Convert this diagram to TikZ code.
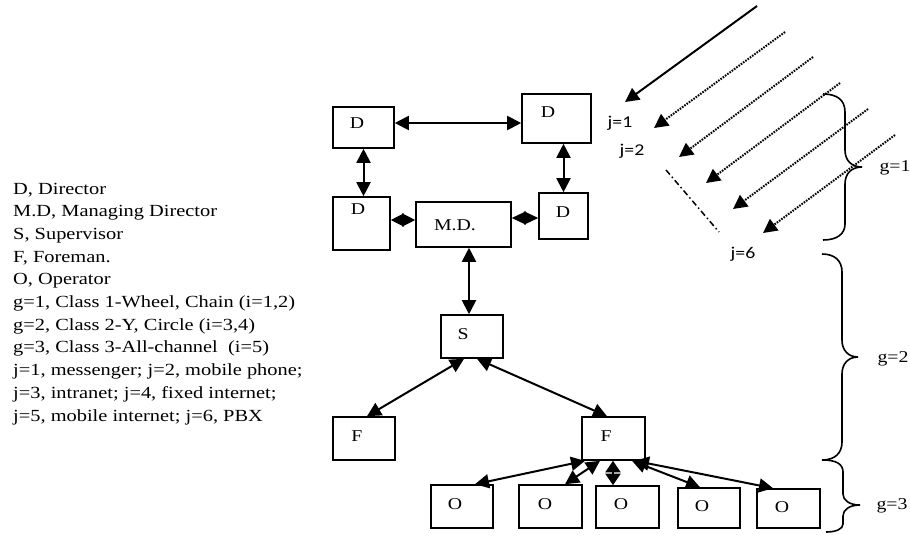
\documentclass[tikz,border=0pt]{standalone}
\usepackage{fontspec}
\setmainfont{Liberation Serif}[FakeStretch=1.2]
\newfontfamily\jfont{Carlito}[FakeStretch=1.2]
\usetikzlibrary{arrows.meta,calc}
\begin{document}
\begin{tikzpicture}[x=1pt,y=-1pt,
  box/.style={draw, line width=1.6pt, inner sep=0pt},
  lbl/.style={font=\fontsize{16.5}{20}\selectfont, inner sep=0pt},
  jlbl/.style={font=\jfont\fontsize{16.5}{20}\selectfont, inner sep=0pt, anchor=base},
  glbl/.style={font=\fontsize{16.5}{20}\selectfont, inner sep=0pt, anchor=base},
  leg/.style={font=\fontsize{17}{20}\selectfont, inner sep=0pt, anchor=base west},
  conn/.style={line width=2pt, {Triangle[length=14pt,width=14pt]}-{Triangle[length=14pt,width=14pt]}},
  shortconn/.style={line width=2pt, {Triangle[length=11.5pt,width=15pt]}-{Triangle[length=11.5pt,width=15pt]}},
  dia/.style={line width=1.2pt, {Triangle[length=13pt,width=13pt]}-{Triangle[length=13pt,width=13pt]}},
  dia2/.style={line width=1.2pt, {Triangle[length=14pt,width=13pt]}-{Triangle[length=14pt,width=13pt]}},
  solidarr/.style={line width=2pt, -{Triangle[length=14pt,width=14pt]}},
  dotarr/.style={line width=2pt, dash pattern=on 1.6pt off 1.2pt, -{Triangle[length=14pt,width=14pt]}},
  dashdotline/.style={line width=1.5pt, dash pattern=on 6pt off 3pt on 1.5pt off 3pt},
  bracepath/.style={line width=1.6pt}
]
\useasboundingbox (0,0) rectangle (910,536);

% legend
\foreach \t [count=\i from 0] in {{D, Director},{M.D, Managing Director},{S, Supervisor},{F, Foreman.},{O, Operator},{g=1, Class 1-Wheel, Chain (i=1,2)},{g=2, Class 2-Y, Circle (i=3,4)},{g=3, Class 3-All-channel\ \ (i=5)},{j=1, messenger; j=2, mobile phone;},{j=3, intranet; j=4, fixed internet;},{j=5, mobile internet; j=6, PBX}}
  \node[leg] (leg\i) at (13,{194+22.7*\i}) {\t};

% boxes
\node[box, minimum width=61pt, minimum height=41pt] (d1) at (363.5,127.5) {};
\node[box, minimum width=69pt, minimum height=49pt] (d2) at (556.5,118.5) {};
\node[box, minimum width=57pt, minimum height=53pt] (d3) at (361.5,223.5) {};
\node[box, minimum width=95pt, minimum height=45pt] (md) at (463.5,224.5) {};
\node[box, minimum width=49pt, minimum height=46pt] (d4) at (563.5,216) {};
\node[box, minimum width=62pt, minimum height=43pt] (s) at (472,336.5) {};
\node[box, minimum width=62pt, minimum height=43pt] (fl) at (364,438.5) {};
\node[box, minimum width=63pt, minimum height=43pt] (fr) at (613.5,438.5) {};
\node[box, minimum width=62pt, minimum height=43pt] (o1) at (462,506.5) {};
\node[box, minimum width=63pt, minimum height=43pt] (o2) at (550.5,506.5) {};
\node[box, minimum width=63pt, minimum height=42pt] (o3) at (627.5,507) {};
\node[box, minimum width=62pt, minimum height=40pt] (o4) at (709,508) {};
\node[box, minimum width=63pt, minimum height=39pt] (o5) at (788.5,508.5) {};

% box labels
\node[lbl] (td1) at (357,123) {D};
\node[lbl] (td2) at (548,112) {D};
\node[lbl] (td3) at (358,209) {D};
\node[lbl] (tmd) at (455,225) {M.D.};
\node[lbl] (td4) at (563,212) {D};
\node[lbl] (ts) at (463,334) {S};
\node[lbl] (tfl) at (357,436) {F};
\node[lbl] (tfr) at (606,436) {F};
\node[lbl] (to1) at (455,504) {O};
\node[lbl] (to2) at (545,504) {O};
\node[lbl] (to3) at (621,504) {O};
\node[lbl] (to4) at (702,506) {O};
\node[lbl] (to5) at (782,507) {O};

% connectors
\draw[conn] (d1.east |- 0,123) -- (d2.west |- 0,123);
\draw[conn] (d1.south) -- (d1.south |- d3.north);
\draw[conn] (d4.north |- d2.south) -- (d4.north);
\draw[dia] (d3.east |- 0,220) -- (md.west |- 0,220);
\draw[dia2] (md.east |- 0,218) -- (d4.west |- 0,218);
\draw[conn] (md.south -| 469,0) -- (s.north -| 469,0);
\draw[conn] (s.south -| 464,0) -- (fl.north -| 367,0);
\draw[conn] (s.south -| 477,0) -- (fr.north -| 607,0);
\draw[conn] (fr.south -| 585,0) -- (o1.north -| 475,0);
\draw[conn] (fr.south -| 600,0) -- (o2.north -| 565,0);
\draw[shortconn] (fr.south -| 613,0) -- (o3.north -| 613,0);
\draw[conn] (fr.south -| 632,0) -- (o4.north -| 700,0);
\draw[conn] (fr.south -| 635,0) -- (o5.north -| 773,0);

% channel arrows
\coordinate (a0s) at (757,6);   \coordinate (a0e) at (625,102);
\coordinate (a1s) at (785,32);  \coordinate (a1e) at (654,128);
\coordinate (a2s) at (813,57);  \coordinate (a2e) at (679,157);
\coordinate (a3s) at (840,83);  \coordinate (a3e) at (706,183);
\coordinate (a4s) at (868,109); \coordinate (a4e) at (733,209);
\coordinate (a5s) at (895,135); \coordinate (a5e) at (763,233);
\coordinate (dds) at (666,170); \coordinate (dde) at (719,232);
\draw[solidarr] (a0s) -- (a0e);
\draw[dotarr] (a1s) -- (a1e);
\draw[dotarr] (a2s) -- (a2e);
\draw[dotarr] (a3s) -- (a3e);
\draw[dotarr] (a4s) -- (a4e);
\draw[dotarr] (a5s) -- (a5e);
\draw[dashdotline] (dds) -- (dde);

\node[jlbl] (j1) at (620,127) {j=1};
\node[jlbl] (j2) at (632,155) {j=2};
\node[jlbl] (j6) at (743,258) {j=6};

% braces
\draw[bracepath] (823,94) .. controls (837,94) and (845,100) .. (845,112) -- (845,150) .. controls (845,160) and (851,167) .. (862,167) .. controls (851,167) and (845,174) .. (845,184) -- (845,224) .. controls (845,234) and (837,240) .. (823,240);
\draw[bracepath] (822,254) .. controls (835,254) and (842,261) .. (842,272) -- (842,340) .. controls (842,350) and (848,357) .. (858,357) .. controls (848,357) and (842,364) .. (842,374) -- (842,442) .. controls (842,453) and (835,460) .. (822,460);
\draw[bracepath] (823,460) .. controls (836,460) and (843,464) .. (843,472) -- (843,494) .. controls (843,500) and (849,505) .. (860,505) .. controls (849,505) and (843,510) .. (843,516) -- (843,524) .. controls (843,529) and (836,532) .. (826,532);

\node[glbl] (g1) at (895,171) {g=1};
\node[glbl] (g2) at (893,362) {g=2};
\node[glbl] (g3) at (892,509) {g=3};
\end{tikzpicture}
\end{document}
